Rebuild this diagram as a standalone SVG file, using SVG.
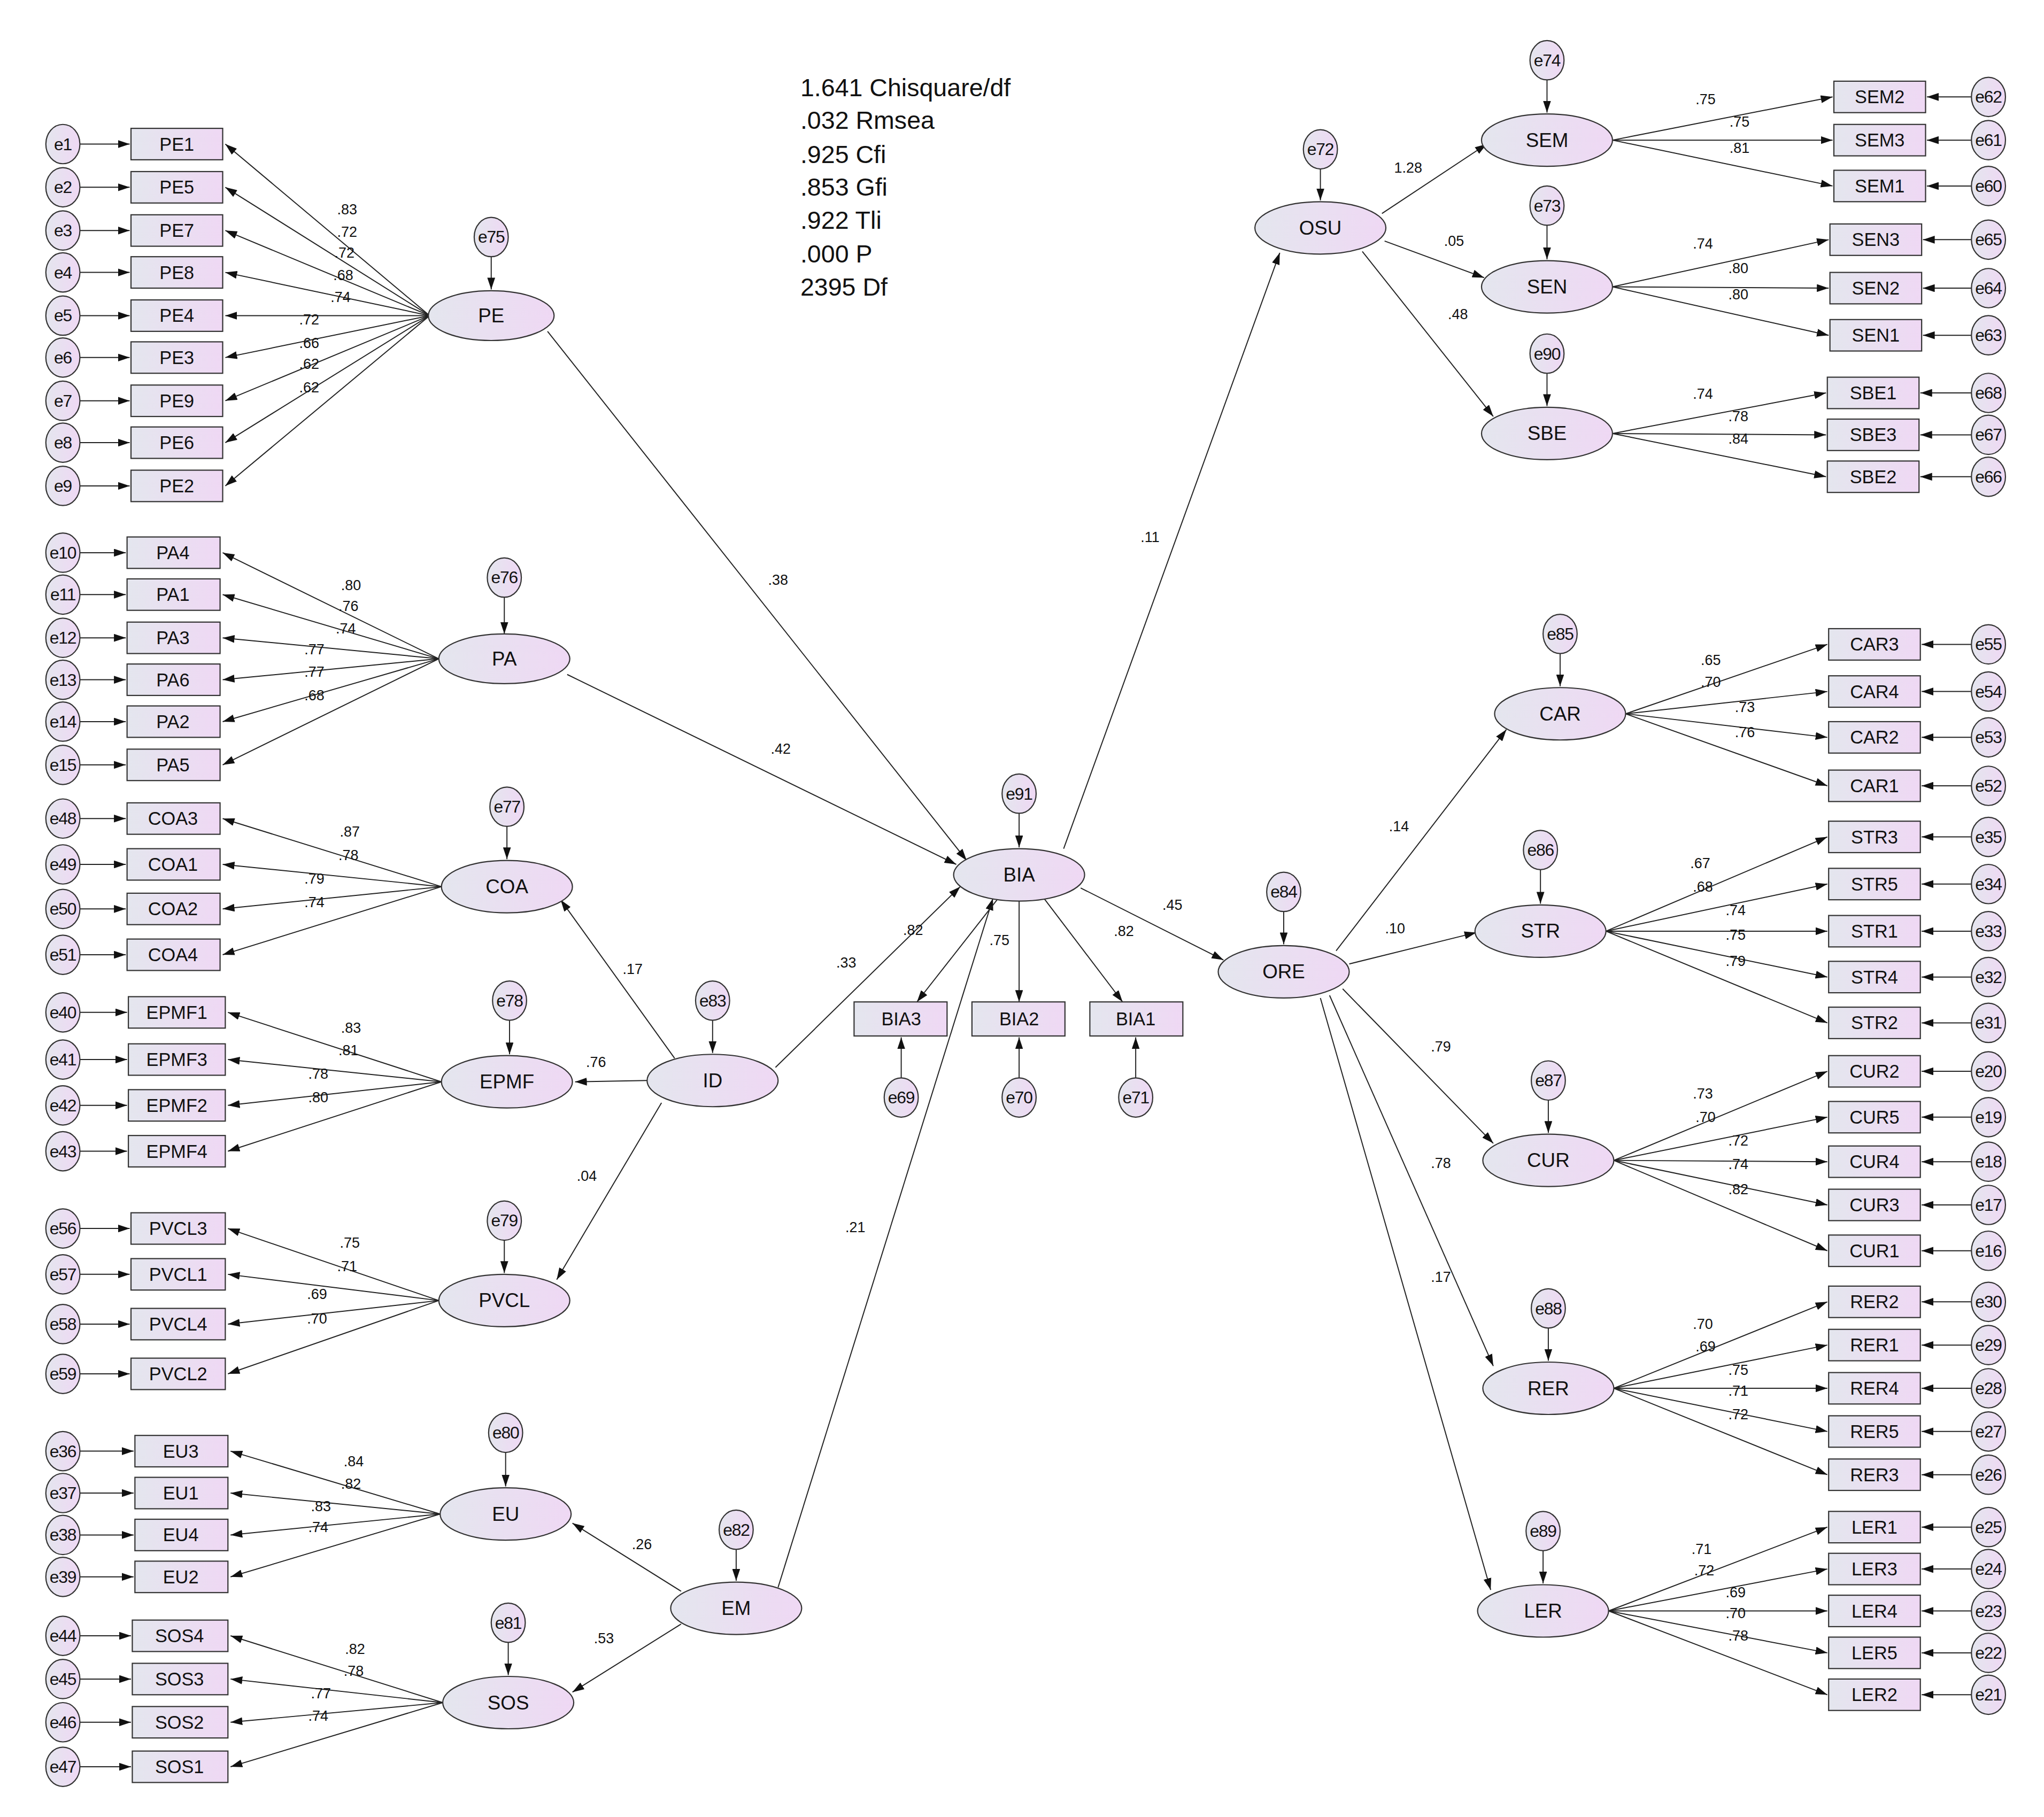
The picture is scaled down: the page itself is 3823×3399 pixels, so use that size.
<svg xmlns="http://www.w3.org/2000/svg" width="3823" height="3399" viewBox="0 0 3823 3399">
<defs>
<linearGradient id="g" x1="0" y1="0" x2="1" y2="0"><stop offset="0" stop-color="#e4e6ee"/><stop offset="1" stop-color="#efd8f4"/></linearGradient>
<marker id="a" markerUnits="userSpaceOnUse" markerWidth="9" markerHeight="6" refX="9" refY="3" orient="auto"><path d="M0,0 L9,3 L0,6 z" fill="#111"/></marker>
<style>
ellipse,rect{fill:url(#g);stroke:#333;stroke-width:0.9}
text{font-family:"Liberation Sans",Arial,sans-serif;fill:#111;text-anchor:middle;dominant-baseline:central}
.n{font-size:14px}.e{font-size:13px;letter-spacing:-0.5px}.l{font-size:11px}.s{font-size:15px}
#conn line{stroke:#222;stroke-width:0.8;marker-end:url(#a)}
.st{font-size:19px;text-anchor:start}
</style>
</defs>
<rect x="0" y="0" width="3823" height="3399" style="fill:#fff;stroke:none"/>
<g transform="scale(2.45)">
<g id="conn">
<!-- PE -->
<line x1="328" y1="241" x2="172" y2="110"/><line x1="328" y1="241" x2="172" y2="143"/><line x1="328" y1="241" x2="172" y2="176"/><line x1="328" y1="241" x2="172" y2="208"/><line x1="328" y1="241" x2="172" y2="241"/><line x1="328" y1="241" x2="172" y2="273"/><line x1="328" y1="241" x2="172" y2="306"/><line x1="328" y1="241" x2="172" y2="338"/><line x1="328" y1="241" x2="172" y2="371"/>
<!-- PA -->
<line x1="335" y1="503" x2="170" y2="422"/><line x1="335" y1="503" x2="170" y2="454"/><line x1="335" y1="503" x2="170" y2="487"/><line x1="335" y1="503" x2="170" y2="519"/><line x1="335" y1="503" x2="170" y2="551"/><line x1="335" y1="503" x2="170" y2="584"/>
<!-- COA -->
<line x1="337" y1="677" x2="170" y2="625"/><line x1="337" y1="677" x2="170" y2="660"/><line x1="337" y1="677" x2="170" y2="694"/><line x1="337" y1="677" x2="170" y2="729"/>
<!-- EPMF -->
<line x1="337" y1="826" x2="174" y2="773"/><line x1="337" y1="826" x2="174" y2="809"/><line x1="337" y1="826" x2="174" y2="844"/><line x1="337" y1="826" x2="174" y2="879"/>
<!-- PVCL -->
<line x1="335" y1="993" x2="174" y2="938"/><line x1="335" y1="993" x2="174" y2="973"/><line x1="335" y1="993" x2="174" y2="1011"/><line x1="335" y1="993" x2="174" y2="1049"/>
<!-- EU -->
<line x1="336" y1="1156" x2="176" y2="1108"/><line x1="336" y1="1156" x2="176" y2="1140"/><line x1="336" y1="1156" x2="176" y2="1172"/><line x1="336" y1="1156" x2="176" y2="1204"/>
<!-- SOS -->
<line x1="338" y1="1300" x2="176" y2="1249"/><line x1="338" y1="1300" x2="176" y2="1282"/><line x1="338" y1="1300" x2="176" y2="1315"/><line x1="338" y1="1300" x2="176" y2="1349"/>
<!-- left error arrows -->
<line x1="61" y1="110" x2="99" y2="110"/><line x1="61" y1="143" x2="99" y2="143"/><line x1="61" y1="176" x2="99" y2="176"/><line x1="61" y1="208" x2="99" y2="208"/><line x1="61" y1="241" x2="99" y2="241"/><line x1="61" y1="273" x2="99" y2="273"/><line x1="61" y1="306" x2="99" y2="306"/><line x1="61" y1="338" x2="99" y2="338"/><line x1="61" y1="371" x2="99" y2="371"/>
<line x1="61" y1="422" x2="96" y2="422"/><line x1="61" y1="454" x2="96" y2="454"/><line x1="61" y1="487" x2="96" y2="487"/><line x1="61" y1="519" x2="96" y2="519"/><line x1="61" y1="551" x2="96" y2="551"/><line x1="61" y1="584" x2="96" y2="584"/>
<line x1="61" y1="625" x2="96" y2="625"/><line x1="61" y1="660" x2="96" y2="660"/><line x1="61" y1="694" x2="96" y2="694"/><line x1="61" y1="729" x2="96" y2="729"/>
<line x1="61" y1="773" x2="97" y2="773"/><line x1="61" y1="809" x2="97" y2="809"/><line x1="61" y1="844" x2="97" y2="844"/><line x1="61" y1="879" x2="97" y2="879"/>
<line x1="61" y1="938" x2="99" y2="938"/><line x1="61" y1="973" x2="99" y2="973"/><line x1="61" y1="1011" x2="99" y2="1011"/><line x1="61" y1="1049" x2="99" y2="1049"/>
<line x1="61" y1="1108" x2="102" y2="1108"/><line x1="61" y1="1140" x2="102" y2="1140"/><line x1="61" y1="1172" x2="102" y2="1172"/><line x1="61" y1="1204" x2="102" y2="1204"/>
<line x1="61" y1="1249" x2="100" y2="1249"/><line x1="61" y1="1282" x2="100" y2="1282"/><line x1="61" y1="1315" x2="100" y2="1315"/><line x1="61" y1="1349" x2="100" y2="1349"/>
<!-- residual to latents -->
<line x1="375" y1="196" x2="375" y2="221"/><line x1="385" y1="456" x2="385" y2="484"/><line x1="387" y1="631" x2="387" y2="656"/><line x1="389" y1="779" x2="389" y2="805"/><line x1="385" y1="947" x2="385" y2="972"/><line x1="386" y1="1109" x2="386" y2="1135"/><line x1="388" y1="1254" x2="388" y2="1279"/>
<line x1="544" y1="779" x2="544" y2="804"/><line x1="562" y1="1183" x2="562" y2="1207"/><line x1="778" y1="621" x2="778" y2="647"/>
<line x1="1008" y1="129" x2="1008" y2="153"/><line x1="1181" y1="61" x2="1181" y2="86"/><line x1="1181" y1="172" x2="1181" y2="198"/><line x1="1181" y1="285" x2="1181" y2="310"/>
<line x1="980" y1="696" x2="980" y2="721"/><line x1="1191" y1="499" x2="1191" y2="524"/><line x1="1176" y1="664" x2="1176" y2="690"/><line x1="1182" y1="840" x2="1182" y2="865"/><line x1="1182" y1="1014" x2="1182" y2="1039"/><line x1="1178" y1="1184" x2="1178" y2="1209"/>
<!-- structural -->
<line x1="418" y1="253" x2="738" y2="657"/><line x1="433" y1="515" x2="730" y2="660"/><line x1="592" y1="815" x2="733" y2="677"/><line x1="594" y1="1212" x2="758" y2="686"/>
<line x1="515" y1="808" x2="428" y2="687"/><line x1="494" y1="825" x2="439" y2="826"/><line x1="505" y1="842" x2="425" y2="977"/>
<line x1="520" y1="1215" x2="437" y2="1163"/><line x1="520" y1="1240" x2="437" y2="1292"/>
<line x1="762" y1="686" x2="700" y2="765"/><line x1="778" y1="688" x2="778" y2="765"/><line x1="797" y1="686" x2="857" y2="765"/>
<line x1="688" y1="823" x2="688" y2="792"/><line x1="778" y1="823" x2="778" y2="792"/><line x1="867" y1="823" x2="867" y2="792"/>
<line x1="812" y1="648" x2="977" y2="193"/><line x1="825" y1="678" x2="934" y2="733"/>
<line x1="1055" y1="163" x2="1135" y2="110"/><line x1="1057" y1="184" x2="1133" y2="212"/><line x1="1040" y1="192" x2="1140" y2="318"/>
<line x1="1020" y1="726" x2="1150" y2="557"/><line x1="1030" y1="736" x2="1127" y2="712"/><line x1="1025" y1="755" x2="1140" y2="873"/><line x1="1015" y1="760" x2="1140" y2="1043"/><line x1="1008" y1="762" x2="1138" y2="1214"/>
<!-- right loadings -->
<line x1="1231" y1="107" x2="1399" y2="74"/><line x1="1231" y1="107" x2="1399" y2="107"/><line x1="1231" y1="107" x2="1399" y2="142"/>
<line x1="1231" y1="219" x2="1396" y2="183"/><line x1="1231" y1="219" x2="1396" y2="220"/><line x1="1231" y1="219" x2="1396" y2="256"/>
<line x1="1231" y1="331" x2="1394" y2="300"/><line x1="1231" y1="331" x2="1394" y2="332"/><line x1="1231" y1="331" x2="1394" y2="364"/>
<line x1="1241" y1="545" x2="1395" y2="492"/><line x1="1241" y1="545" x2="1395" y2="528"/><line x1="1241" y1="545" x2="1395" y2="563"/><line x1="1241" y1="545" x2="1395" y2="600"/>
<line x1="1226" y1="711" x2="1395" y2="639"/><line x1="1226" y1="711" x2="1395" y2="675"/><line x1="1226" y1="711" x2="1395" y2="711"/><line x1="1226" y1="711" x2="1395" y2="746"/><line x1="1226" y1="711" x2="1395" y2="781"/>
<line x1="1232" y1="886" x2="1395" y2="818"/><line x1="1232" y1="886" x2="1395" y2="853"/><line x1="1232" y1="886" x2="1395" y2="887"/><line x1="1232" y1="886" x2="1395" y2="920"/><line x1="1232" y1="886" x2="1395" y2="955"/>
<line x1="1232" y1="1060" x2="1395" y2="994"/><line x1="1232" y1="1060" x2="1395" y2="1027"/><line x1="1232" y1="1060" x2="1395" y2="1060"/><line x1="1232" y1="1060" x2="1395" y2="1093"/><line x1="1232" y1="1060" x2="1395" y2="1126"/>
<line x1="1228" y1="1230" x2="1395" y2="1166"/><line x1="1228" y1="1230" x2="1395" y2="1198"/><line x1="1228" y1="1230" x2="1395" y2="1230"/><line x1="1228" y1="1230" x2="1395" y2="1262"/><line x1="1228" y1="1230" x2="1395" y2="1294"/>
<!-- right error arrows -->
<line x1="1505" y1="74" x2="1471" y2="74"/><line x1="1505" y1="107" x2="1471" y2="107"/><line x1="1505" y1="142" x2="1471" y2="142"/>
<line x1="1505" y1="183" x2="1468" y2="183"/><line x1="1505" y1="220" x2="1468" y2="220"/><line x1="1505" y1="256" x2="1468" y2="256"/>
<line x1="1505" y1="300" x2="1466" y2="300"/><line x1="1505" y1="332" x2="1466" y2="332"/><line x1="1505" y1="364" x2="1466" y2="364"/>
<line x1="1505" y1="492" x2="1467" y2="492"/><line x1="1505" y1="528" x2="1467" y2="528"/><line x1="1505" y1="563" x2="1467" y2="563"/><line x1="1505" y1="600" x2="1467" y2="600"/>
<line x1="1505" y1="639" x2="1467" y2="639"/><line x1="1505" y1="675" x2="1467" y2="675"/><line x1="1505" y1="711" x2="1467" y2="711"/><line x1="1505" y1="746" x2="1467" y2="746"/><line x1="1505" y1="781" x2="1467" y2="781"/>
<line x1="1505" y1="818" x2="1467" y2="818"/><line x1="1505" y1="853" x2="1467" y2="853"/><line x1="1505" y1="887" x2="1467" y2="887"/><line x1="1505" y1="920" x2="1467" y2="920"/><line x1="1505" y1="955" x2="1467" y2="955"/>
<line x1="1505" y1="994" x2="1467" y2="994"/><line x1="1505" y1="1027" x2="1467" y2="1027"/><line x1="1505" y1="1060" x2="1467" y2="1060"/><line x1="1505" y1="1093" x2="1467" y2="1093"/><line x1="1505" y1="1126" x2="1467" y2="1126"/>
<line x1="1505" y1="1166" x2="1467" y2="1166"/><line x1="1505" y1="1198" x2="1467" y2="1198"/><line x1="1505" y1="1230" x2="1467" y2="1230"/><line x1="1505" y1="1262" x2="1467" y2="1262"/><line x1="1505" y1="1294" x2="1467" y2="1294"/>
</g>
<g id="labels" class="l">
<text class="l" x="265" y="160">.83</text><text class="l" x="265" y="177">.72</text><text class="l" x="263" y="193">.72</text><text class="l" x="262" y="210">.68</text><text class="l" x="260" y="227">.74</text><text class="l" x="236" y="244">.72</text><text class="l" x="236" y="262">.66</text><text class="l" x="236" y="278">.62</text><text class="l" x="236" y="296">.62</text>
<text class="l" x="268" y="447">.80</text><text class="l" x="266" y="463">.76</text><text class="l" x="264" y="480">.74</text><text class="l" x="240" y="496">.77</text><text class="l" x="240" y="513">.77</text><text class="l" x="240" y="531">.68</text>
<text class="l" x="267" y="635">.87</text><text class="l" x="266" y="653">.78</text><text class="l" x="240" y="671">.79</text><text class="l" x="240" y="689">.74</text>
<text class="l" x="268" y="785">.83</text><text class="l" x="266" y="802">.81</text><text class="l" x="243" y="820">.78</text><text class="l" x="243" y="838">.80</text>
<text class="l" x="267" y="949">.75</text><text class="l" x="265" y="967">.71</text><text class="l" x="242" y="988">.69</text><text class="l" x="242" y="1007">.70</text>
<text class="l" x="270" y="1116">.84</text><text class="l" x="268" y="1133">.82</text><text class="l" x="245" y="1150">.83</text><text class="l" x="243" y="1166">.74</text>
<text class="l" x="271" y="1259">.82</text><text class="l" x="270" y="1276">.78</text><text class="l" x="245" y="1293">.77</text><text class="l" x="243" y="1310">.74</text>
<text class="l" x="594" y="443">.38</text><text class="l" x="596" y="572">.42</text><text class="l" x="483" y="740">.17</text><text class="l" x="455" y="811">.76</text><text class="l" x="448" y="898">.04</text><text class="l" x="646" y="735">.33</text><text class="l" x="490" y="1179">.26</text><text class="l" x="461" y="1251">.53</text><text class="l" x="653" y="937">.21</text>
<text class="l" x="697" y="710">.82</text><text class="l" x="763" y="718">.75</text><text class="l" x="858" y="711">.82</text>
<text class="l" x="878" y="410">.11</text><text class="l" x="895" y="691">.45</text>
<text class="l" x="1075" y="128">1.28</text><text class="l" x="1110" y="184">.05</text><text class="l" x="1113" y="240">.48</text>
<text class="l" x="1302" y="76">.75</text><text class="l" x="1328" y="93">.75</text><text class="l" x="1328" y="113">.81</text>
<text class="l" x="1300" y="186">.74</text><text class="l" x="1327" y="205">.80</text><text class="l" x="1327" y="225">.80</text>
<text class="l" x="1300" y="301">.74</text><text class="l" x="1327" y="318">.78</text><text class="l" x="1327" y="335">.84</text>
<text class="l" x="1068" y="631">.14</text><text class="l" x="1065" y="709">.10</text><text class="l" x="1100" y="799">.79</text><text class="l" x="1100" y="888">.78</text><text class="l" x="1100" y="975">.17</text>
<text class="l" x="1306" y="504">.65</text><text class="l" x="1306" y="521">.70</text><text class="l" x="1332" y="540">.73</text><text class="l" x="1332" y="559">.76</text>
<text class="l" x="1298" y="659">.67</text><text class="l" x="1300" y="677">.68</text><text class="l" x="1325" y="695">.74</text><text class="l" x="1325" y="714">.75</text><text class="l" x="1325" y="734">.79</text>
<text class="l" x="1300" y="835">.73</text><text class="l" x="1302" y="853">.70</text><text class="l" x="1327" y="871">.72</text><text class="l" x="1327" y="889">.74</text><text class="l" x="1327" y="908">.82</text>
<text class="l" x="1300" y="1011">.70</text><text class="l" x="1302" y="1028">.69</text><text class="l" x="1327" y="1046">.75</text><text class="l" x="1327" y="1062">.71</text><text class="l" x="1327" y="1080">.72</text>
<text class="l" x="1299" y="1183">.71</text><text class="l" x="1301" y="1199">.72</text><text class="l" x="1325" y="1216">.69</text><text class="l" x="1325" y="1232">.70</text><text class="l" x="1327" y="1249">.78</text>
</g>
<g id="stats">
<text class="st" x="611" y="67">1.641 Chisquare/df</text><text class="st" x="611" y="92">.032 Rmsea</text><text class="st" x="611" y="118">.925 Cfi</text><text class="st" x="611" y="143">.853 Gfi</text><text class="st" x="611" y="168">.922 Tli</text><text class="st" x="611" y="194">.000 P</text><text class="st" x="611" y="219">2395 Df</text>
</g>
<!-- latent nodes -->
<g id="PE"><ellipse cx="375" cy="241" rx="48" ry="19"/><text class="s" x="375" y="241">PE</text></g>
<g id="PA"><ellipse cx="385" cy="503" rx="50" ry="19"/><text class="s" x="385" y="503">PA</text></g>
<g id="COA"><ellipse cx="387" cy="677" rx="50" ry="20"/><text class="s" x="387" y="677">COA</text></g>
<g id="EPMF"><ellipse cx="387" cy="826" rx="50" ry="20"/><text class="s" x="387" y="826">EPMF</text></g>
<g id="PVCL"><ellipse cx="385" cy="993" rx="50" ry="20"/><text class="s" x="385" y="993">PVCL</text></g>
<g id="EU"><ellipse cx="386" cy="1156" rx="50" ry="20"/><text class="s" x="386" y="1156">EU</text></g>
<g id="SOS"><ellipse cx="388" cy="1300" rx="50" ry="20"/><text class="s" x="388" y="1300">SOS</text></g>
<g id="ID"><ellipse cx="544" cy="825" rx="50" ry="20"/><text class="s" x="544" y="825">ID</text></g>
<g id="EM"><ellipse cx="562" cy="1228" rx="50" ry="20"/><text class="s" x="562" y="1228">EM</text></g>
<g id="BIA"><ellipse cx="778" cy="668" rx="50" ry="20"/><text class="s" x="778" y="668">BIA</text></g>
<g id="OSU"><ellipse cx="1008" cy="174" rx="50" ry="20"/><text class="s" x="1008" y="174">OSU</text></g>
<g id="SEM"><ellipse cx="1181" cy="107" rx="50" ry="20"/><text class="s" x="1181" y="107">SEM</text></g>
<g id="SEN"><ellipse cx="1181" cy="219" rx="50" ry="20"/><text class="s" x="1181" y="219">SEN</text></g>
<g id="SBE"><ellipse cx="1181" cy="331" rx="50" ry="20"/><text class="s" x="1181" y="331">SBE</text></g>
<g id="ORE"><ellipse cx="980" cy="742" rx="50" ry="20"/><text class="s" x="980" y="742">ORE</text></g>
<g id="CAR"><ellipse cx="1191" cy="545" rx="50" ry="20"/><text class="s" x="1191" y="545">CAR</text></g>
<g id="STR"><ellipse cx="1176" cy="711" rx="50" ry="20"/><text class="s" x="1176" y="711">STR</text></g>
<g id="CUR"><ellipse cx="1182" cy="886" rx="50" ry="20"/><text class="s" x="1182" y="886">CUR</text></g>
<g id="RER"><ellipse cx="1182" cy="1060" rx="50" ry="20"/><text class="s" x="1182" y="1060">RER</text></g>
<g id="LER"><ellipse cx="1178" cy="1230" rx="50" ry="20"/><text class="s" x="1178" y="1230">LER</text></g>
<!-- observed boxes left -->
<g id="PE1"><rect x="100" y="98" width="70" height="24"/><text class="n" x="135" y="110">PE1</text></g>
<g id="PE5"><rect x="100" y="131" width="70" height="24"/><text class="n" x="135" y="143">PE5</text></g>
<g id="PE7"><rect x="100" y="164" width="70" height="24"/><text class="n" x="135" y="176">PE7</text></g>
<g id="PE8"><rect x="100" y="196" width="70" height="24"/><text class="n" x="135" y="208">PE8</text></g>
<g id="PE4"><rect x="100" y="229" width="70" height="24"/><text class="n" x="135" y="241">PE4</text></g>
<g id="PE3"><rect x="100" y="261" width="70" height="24"/><text class="n" x="135" y="273">PE3</text></g>
<g id="PE9"><rect x="100" y="294" width="70" height="24"/><text class="n" x="135" y="306">PE9</text></g>
<g id="PE6"><rect x="100" y="326" width="70" height="24"/><text class="n" x="135" y="338">PE6</text></g>
<g id="PE2"><rect x="100" y="359" width="70" height="24"/><text class="n" x="135" y="371">PE2</text></g>
<g id="PA4"><rect x="97" y="410" width="71" height="24"/><text class="n" x="132" y="422">PA4</text></g>
<g id="PA1"><rect x="97" y="442" width="71" height="24"/><text class="n" x="132" y="454">PA1</text></g>
<g id="PA3"><rect x="97" y="475" width="71" height="24"/><text class="n" x="132" y="487">PA3</text></g>
<g id="PA6"><rect x="97" y="507" width="71" height="24"/><text class="n" x="132" y="519">PA6</text></g>
<g id="PA2"><rect x="97" y="539" width="71" height="24"/><text class="n" x="132" y="551">PA2</text></g>
<g id="PA5"><rect x="97" y="572" width="71" height="24"/><text class="n" x="132" y="584">PA5</text></g>
<g id="COA3"><rect x="97" y="613" width="71" height="24"/><text class="n" x="132" y="625">COA3</text></g>
<g id="COA1"><rect x="97" y="648" width="71" height="24"/><text class="n" x="132" y="660">COA1</text></g>
<g id="COA2"><rect x="97" y="682" width="71" height="24"/><text class="n" x="132" y="694">COA2</text></g>
<g id="COA4"><rect x="97" y="717" width="71" height="24"/><text class="n" x="132" y="729">COA4</text></g>
<g id="EPMF1"><rect x="98" y="761" width="74" height="24"/><text class="n" x="135" y="773">EPMF1</text></g>
<g id="EPMF3"><rect x="98" y="797" width="74" height="24"/><text class="n" x="135" y="809">EPMF3</text></g>
<g id="EPMF2"><rect x="98" y="832" width="74" height="24"/><text class="n" x="135" y="844">EPMF2</text></g>
<g id="EPMF4"><rect x="98" y="867" width="74" height="24"/><text class="n" x="135" y="879">EPMF4</text></g>
<g id="PVCL3"><rect x="100" y="926" width="72" height="24"/><text class="n" x="136" y="938">PVCL3</text></g>
<g id="PVCL1"><rect x="100" y="961" width="72" height="24"/><text class="n" x="136" y="973">PVCL1</text></g>
<g id="PVCL4"><rect x="100" y="999" width="72" height="24"/><text class="n" x="136" y="1011">PVCL4</text></g>
<g id="PVCL2"><rect x="100" y="1037" width="72" height="24"/><text class="n" x="136" y="1049">PVCL2</text></g>
<g id="EU3"><rect x="103" y="1096" width="71" height="24"/><text class="n" x="138" y="1108">EU3</text></g>
<g id="EU1"><rect x="103" y="1128" width="71" height="24"/><text class="n" x="138" y="1140">EU1</text></g>
<g id="EU4"><rect x="103" y="1160" width="71" height="24"/><text class="n" x="138" y="1172">EU4</text></g>
<g id="EU2"><rect x="103" y="1192" width="71" height="24"/><text class="n" x="138" y="1204">EU2</text></g>
<g id="SOS4"><rect x="101" y="1237" width="73" height="24"/><text class="n" x="137" y="1249">SOS4</text></g>
<g id="SOS3"><rect x="101" y="1270" width="73" height="24"/><text class="n" x="137" y="1282">SOS3</text></g>
<g id="SOS2"><rect x="101" y="1303" width="73" height="24"/><text class="n" x="137" y="1315">SOS2</text></g>
<g id="SOS1"><rect x="101" y="1337" width="73" height="24"/><text class="n" x="137" y="1349">SOS1</text></g>
<!-- BIA boxes -->
<g id="BIA3"><rect x="652" y="765" width="71" height="26"/><text class="n" x="688" y="778">BIA3</text></g>
<g id="BIA2"><rect x="742" y="765" width="71" height="26"/><text class="n" x="778" y="778">BIA2</text></g>
<g id="BIA1"><rect x="832" y="765" width="71" height="26"/><text class="n" x="867" y="778">BIA1</text></g>
<!-- right boxes -->
<g id="SEM2"><rect x="1400" y="62" width="70" height="24"/><text class="n" x="1435" y="74">SEM2</text></g>
<g id="SEM3"><rect x="1400" y="95" width="70" height="24"/><text class="n" x="1435" y="107">SEM3</text></g>
<g id="SEM1"><rect x="1400" y="130" width="70" height="24"/><text class="n" x="1435" y="142">SEM1</text></g>
<g id="SEN3"><rect x="1397" y="171" width="70" height="24"/><text class="n" x="1432" y="183">SEN3</text></g>
<g id="SEN2"><rect x="1397" y="208" width="70" height="24"/><text class="n" x="1432" y="220">SEN2</text></g>
<g id="SEN1"><rect x="1397" y="244" width="70" height="24"/><text class="n" x="1432" y="256">SEN1</text></g>
<g id="SBE1"><rect x="1395" y="288" width="70" height="24"/><text class="n" x="1430" y="300">SBE1</text></g>
<g id="SBE3"><rect x="1395" y="320" width="70" height="24"/><text class="n" x="1430" y="332">SBE3</text></g>
<g id="SBE2"><rect x="1395" y="352" width="70" height="24"/><text class="n" x="1430" y="364">SBE2</text></g>
<g id="CAR3"><rect x="1396" y="480" width="70" height="24"/><text class="n" x="1431" y="492">CAR3</text></g>
<g id="CAR4"><rect x="1396" y="516" width="70" height="24"/><text class="n" x="1431" y="528">CAR4</text></g>
<g id="CAR2"><rect x="1396" y="551" width="70" height="24"/><text class="n" x="1431" y="563">CAR2</text></g>
<g id="CAR1"><rect x="1396" y="588" width="70" height="24"/><text class="n" x="1431" y="600">CAR1</text></g>
<g id="STR3"><rect x="1396" y="627" width="70" height="24"/><text class="n" x="1431" y="639">STR3</text></g>
<g id="STR5"><rect x="1396" y="663" width="70" height="24"/><text class="n" x="1431" y="675">STR5</text></g>
<g id="STR1"><rect x="1396" y="699" width="70" height="24"/><text class="n" x="1431" y="711">STR1</text></g>
<g id="STR4"><rect x="1396" y="734" width="70" height="24"/><text class="n" x="1431" y="746">STR4</text></g>
<g id="STR2"><rect x="1396" y="769" width="70" height="24"/><text class="n" x="1431" y="781">STR2</text></g>
<g id="CUR2"><rect x="1396" y="806" width="70" height="24"/><text class="n" x="1431" y="818">CUR2</text></g>
<g id="CUR5"><rect x="1396" y="841" width="70" height="24"/><text class="n" x="1431" y="853">CUR5</text></g>
<g id="CUR4"><rect x="1396" y="875" width="70" height="24"/><text class="n" x="1431" y="887">CUR4</text></g>
<g id="CUR3"><rect x="1396" y="908" width="70" height="24"/><text class="n" x="1431" y="920">CUR3</text></g>
<g id="CUR1"><rect x="1396" y="943" width="70" height="24"/><text class="n" x="1431" y="955">CUR1</text></g>
<g id="RER2"><rect x="1396" y="982" width="70" height="24"/><text class="n" x="1431" y="994">RER2</text></g>
<g id="RER1"><rect x="1396" y="1015" width="70" height="24"/><text class="n" x="1431" y="1027">RER1</text></g>
<g id="RER4"><rect x="1396" y="1048" width="70" height="24"/><text class="n" x="1431" y="1060">RER4</text></g>
<g id="RER5"><rect x="1396" y="1081" width="70" height="24"/><text class="n" x="1431" y="1093">RER5</text></g>
<g id="RER3"><rect x="1396" y="1114" width="70" height="24"/><text class="n" x="1431" y="1126">RER3</text></g>
<g id="LER1"><rect x="1396" y="1154" width="70" height="24"/><text class="n" x="1431" y="1166">LER1</text></g>
<g id="LER3"><rect x="1396" y="1186" width="70" height="24"/><text class="n" x="1431" y="1198">LER3</text></g>
<g id="LER4"><rect x="1396" y="1218" width="70" height="24"/><text class="n" x="1431" y="1230">LER4</text></g>
<g id="LER5"><rect x="1396" y="1250" width="70" height="24"/><text class="n" x="1431" y="1262">LER5</text></g>
<g id="LER2"><rect x="1396" y="1282" width="70" height="24"/><text class="n" x="1431" y="1294">LER2</text></g>
<!-- error terms left -->
<g id="e1"><ellipse cx="48" cy="110" rx="13" ry="15"/><text class="e" x="48" y="110">e1</text></g>
<g id="e2"><ellipse cx="48" cy="143" rx="13" ry="15"/><text class="e" x="48" y="143">e2</text></g>
<g id="e3"><ellipse cx="48" cy="176" rx="13" ry="15"/><text class="e" x="48" y="176">e3</text></g>
<g id="e4"><ellipse cx="48" cy="208" rx="13" ry="15"/><text class="e" x="48" y="208">e4</text></g>
<g id="e5"><ellipse cx="48" cy="241" rx="13" ry="15"/><text class="e" x="48" y="241">e5</text></g>
<g id="e6"><ellipse cx="48" cy="273" rx="13" ry="15"/><text class="e" x="48" y="273">e6</text></g>
<g id="e7"><ellipse cx="48" cy="306" rx="13" ry="15"/><text class="e" x="48" y="306">e7</text></g>
<g id="e8"><ellipse cx="48" cy="338" rx="13" ry="15"/><text class="e" x="48" y="338">e8</text></g>
<g id="e9"><ellipse cx="48" cy="371" rx="13" ry="15"/><text class="e" x="48" y="371">e9</text></g>
<g id="e10"><ellipse cx="48" cy="422" rx="13" ry="15"/><text class="e" x="48" y="422">e10</text></g>
<g id="e11"><ellipse cx="48" cy="454" rx="13" ry="15"/><text class="e" x="48" y="454">e11</text></g>
<g id="e12"><ellipse cx="48" cy="487" rx="13" ry="15"/><text class="e" x="48" y="487">e12</text></g>
<g id="e13"><ellipse cx="48" cy="519" rx="13" ry="15"/><text class="e" x="48" y="519">e13</text></g>
<g id="e14"><ellipse cx="48" cy="551" rx="13" ry="15"/><text class="e" x="48" y="551">e14</text></g>
<g id="e15"><ellipse cx="48" cy="584" rx="13" ry="15"/><text class="e" x="48" y="584">e15</text></g>
<g id="e48"><ellipse cx="48" cy="625" rx="13" ry="15"/><text class="e" x="48" y="625">e48</text></g>
<g id="e49"><ellipse cx="48" cy="660" rx="13" ry="15"/><text class="e" x="48" y="660">e49</text></g>
<g id="e50"><ellipse cx="48" cy="694" rx="13" ry="15"/><text class="e" x="48" y="694">e50</text></g>
<g id="e51"><ellipse cx="48" cy="729" rx="13" ry="15"/><text class="e" x="48" y="729">e51</text></g>
<g id="e40"><ellipse cx="48" cy="773" rx="13" ry="15"/><text class="e" x="48" y="773">e40</text></g>
<g id="e41"><ellipse cx="48" cy="809" rx="13" ry="15"/><text class="e" x="48" y="809">e41</text></g>
<g id="e42"><ellipse cx="48" cy="844" rx="13" ry="15"/><text class="e" x="48" y="844">e42</text></g>
<g id="e43"><ellipse cx="48" cy="879" rx="13" ry="15"/><text class="e" x="48" y="879">e43</text></g>
<g id="e56"><ellipse cx="48" cy="938" rx="13" ry="15"/><text class="e" x="48" y="938">e56</text></g>
<g id="e57"><ellipse cx="48" cy="973" rx="13" ry="15"/><text class="e" x="48" y="973">e57</text></g>
<g id="e58"><ellipse cx="48" cy="1011" rx="13" ry="15"/><text class="e" x="48" y="1011">e58</text></g>
<g id="e59"><ellipse cx="48" cy="1049" rx="13" ry="15"/><text class="e" x="48" y="1049">e59</text></g>
<g id="e36"><ellipse cx="48" cy="1108" rx="13" ry="15"/><text class="e" x="48" y="1108">e36</text></g>
<g id="e37"><ellipse cx="48" cy="1140" rx="13" ry="15"/><text class="e" x="48" y="1140">e37</text></g>
<g id="e38"><ellipse cx="48" cy="1172" rx="13" ry="15"/><text class="e" x="48" y="1172">e38</text></g>
<g id="e39"><ellipse cx="48" cy="1204" rx="13" ry="15"/><text class="e" x="48" y="1204">e39</text></g>
<g id="e44"><ellipse cx="48" cy="1249" rx="13" ry="15"/><text class="e" x="48" y="1249">e44</text></g>
<g id="e45"><ellipse cx="48" cy="1282" rx="13" ry="15"/><text class="e" x="48" y="1282">e45</text></g>
<g id="e46"><ellipse cx="48" cy="1315" rx="13" ry="15"/><text class="e" x="48" y="1315">e46</text></g>
<g id="e47"><ellipse cx="48" cy="1349" rx="13" ry="15"/><text class="e" x="48" y="1349">e47</text></g>
<!-- residuals -->
<g id="e75"><ellipse cx="375" cy="181" rx="13" ry="15"/><text class="e" x="375" y="181">e75</text></g>
<g id="e76"><ellipse cx="385" cy="441" rx="13" ry="15"/><text class="e" x="385" y="441">e76</text></g>
<g id="e77"><ellipse cx="387" cy="616" rx="13" ry="15"/><text class="e" x="387" y="616">e77</text></g>
<g id="e78"><ellipse cx="389" cy="764" rx="13" ry="15"/><text class="e" x="389" y="764">e78</text></g>
<g id="e79"><ellipse cx="385" cy="932" rx="13" ry="15"/><text class="e" x="385" y="932">e79</text></g>
<g id="e80"><ellipse cx="386" cy="1094" rx="13" ry="15"/><text class="e" x="386" y="1094">e80</text></g>
<g id="e81"><ellipse cx="388" cy="1239" rx="13" ry="15"/><text class="e" x="388" y="1239">e81</text></g>
<g id="e83"><ellipse cx="544" cy="764" rx="13" ry="15"/><text class="e" x="544" y="764">e83</text></g>
<g id="e82"><ellipse cx="562" cy="1168" rx="13" ry="15"/><text class="e" x="562" y="1168">e82</text></g>
<g id="e91"><ellipse cx="778" cy="606" rx="13" ry="15"/><text class="e" x="778" y="606">e91</text></g>
<g id="e69"><ellipse cx="688" cy="838" rx="13" ry="15"/><text class="e" x="688" y="838">e69</text></g>
<g id="e70"><ellipse cx="778" cy="838" rx="13" ry="15"/><text class="e" x="778" y="838">e70</text></g>
<g id="e71"><ellipse cx="867" cy="838" rx="13" ry="15"/><text class="e" x="867" y="838">e71</text></g>
<g id="e72"><ellipse cx="1008" cy="114" rx="13" ry="15"/><text class="e" x="1008" y="114">e72</text></g>
<g id="e74"><ellipse cx="1181" cy="46" rx="13" ry="15"/><text class="e" x="1181" y="46">e74</text></g>
<g id="e73"><ellipse cx="1181" cy="157" rx="13" ry="15"/><text class="e" x="1181" y="157">e73</text></g>
<g id="e90"><ellipse cx="1181" cy="270" rx="13" ry="15"/><text class="e" x="1181" y="270">e90</text></g>
<g id="e84"><ellipse cx="980" cy="681" rx="13" ry="15"/><text class="e" x="980" y="681">e84</text></g>
<g id="e85"><ellipse cx="1191" cy="484" rx="13" ry="15"/><text class="e" x="1191" y="484">e85</text></g>
<g id="e86"><ellipse cx="1176" cy="649" rx="13" ry="15"/><text class="e" x="1176" y="649">e86</text></g>
<g id="e87"><ellipse cx="1182" cy="825" rx="13" ry="15"/><text class="e" x="1182" y="825">e87</text></g>
<g id="e88"><ellipse cx="1182" cy="999" rx="13" ry="15"/><text class="e" x="1182" y="999">e88</text></g>
<g id="e89"><ellipse cx="1178" cy="1169" rx="13" ry="15"/><text class="e" x="1178" y="1169">e89</text></g>
<!-- right errors -->
<g id="e62"><ellipse cx="1518" cy="74" rx="13" ry="15"/><text class="e" x="1518" y="74">e62</text></g>
<g id="e61"><ellipse cx="1518" cy="107" rx="13" ry="15"/><text class="e" x="1518" y="107">e61</text></g>
<g id="e60"><ellipse cx="1518" cy="142" rx="13" ry="15"/><text class="e" x="1518" y="142">e60</text></g>
<g id="e65"><ellipse cx="1518" cy="183" rx="13" ry="15"/><text class="e" x="1518" y="183">e65</text></g>
<g id="e64"><ellipse cx="1518" cy="220" rx="13" ry="15"/><text class="e" x="1518" y="220">e64</text></g>
<g id="e63"><ellipse cx="1518" cy="256" rx="13" ry="15"/><text class="e" x="1518" y="256">e63</text></g>
<g id="e68"><ellipse cx="1518" cy="300" rx="13" ry="15"/><text class="e" x="1518" y="300">e68</text></g>
<g id="e67"><ellipse cx="1518" cy="332" rx="13" ry="15"/><text class="e" x="1518" y="332">e67</text></g>
<g id="e66"><ellipse cx="1518" cy="364" rx="13" ry="15"/><text class="e" x="1518" y="364">e66</text></g>
<g id="e55"><ellipse cx="1518" cy="492" rx="13" ry="15"/><text class="e" x="1518" y="492">e55</text></g>
<g id="e54"><ellipse cx="1518" cy="528" rx="13" ry="15"/><text class="e" x="1518" y="528">e54</text></g>
<g id="e53"><ellipse cx="1518" cy="563" rx="13" ry="15"/><text class="e" x="1518" y="563">e53</text></g>
<g id="e52"><ellipse cx="1518" cy="600" rx="13" ry="15"/><text class="e" x="1518" y="600">e52</text></g>
<g id="e35"><ellipse cx="1518" cy="639" rx="13" ry="15"/><text class="e" x="1518" y="639">e35</text></g>
<g id="e34"><ellipse cx="1518" cy="675" rx="13" ry="15"/><text class="e" x="1518" y="675">e34</text></g>
<g id="e33"><ellipse cx="1518" cy="711" rx="13" ry="15"/><text class="e" x="1518" y="711">e33</text></g>
<g id="e32"><ellipse cx="1518" cy="746" rx="13" ry="15"/><text class="e" x="1518" y="746">e32</text></g>
<g id="e31"><ellipse cx="1518" cy="781" rx="13" ry="15"/><text class="e" x="1518" y="781">e31</text></g>
<g id="e20"><ellipse cx="1518" cy="818" rx="13" ry="15"/><text class="e" x="1518" y="818">e20</text></g>
<g id="e19"><ellipse cx="1518" cy="853" rx="13" ry="15"/><text class="e" x="1518" y="853">e19</text></g>
<g id="e18"><ellipse cx="1518" cy="887" rx="13" ry="15"/><text class="e" x="1518" y="887">e18</text></g>
<g id="e17"><ellipse cx="1518" cy="920" rx="13" ry="15"/><text class="e" x="1518" y="920">e17</text></g>
<g id="e16"><ellipse cx="1518" cy="955" rx="13" ry="15"/><text class="e" x="1518" y="955">e16</text></g>
<g id="e30"><ellipse cx="1518" cy="994" rx="13" ry="15"/><text class="e" x="1518" y="994">e30</text></g>
<g id="e29"><ellipse cx="1518" cy="1027" rx="13" ry="15"/><text class="e" x="1518" y="1027">e29</text></g>
<g id="e28"><ellipse cx="1518" cy="1060" rx="13" ry="15"/><text class="e" x="1518" y="1060">e28</text></g>
<g id="e27"><ellipse cx="1518" cy="1093" rx="13" ry="15"/><text class="e" x="1518" y="1093">e27</text></g>
<g id="e26"><ellipse cx="1518" cy="1126" rx="13" ry="15"/><text class="e" x="1518" y="1126">e26</text></g>
<g id="e25"><ellipse cx="1518" cy="1166" rx="13" ry="15"/><text class="e" x="1518" y="1166">e25</text></g>
<g id="e24"><ellipse cx="1518" cy="1198" rx="13" ry="15"/><text class="e" x="1518" y="1198">e24</text></g>
<g id="e23"><ellipse cx="1518" cy="1230" rx="13" ry="15"/><text class="e" x="1518" y="1230">e23</text></g>
<g id="e22"><ellipse cx="1518" cy="1262" rx="13" ry="15"/><text class="e" x="1518" y="1262">e22</text></g>
<g id="e21"><ellipse cx="1518" cy="1294" rx="13" ry="15"/><text class="e" x="1518" y="1294">e21</text></g>
</g>
</svg>
